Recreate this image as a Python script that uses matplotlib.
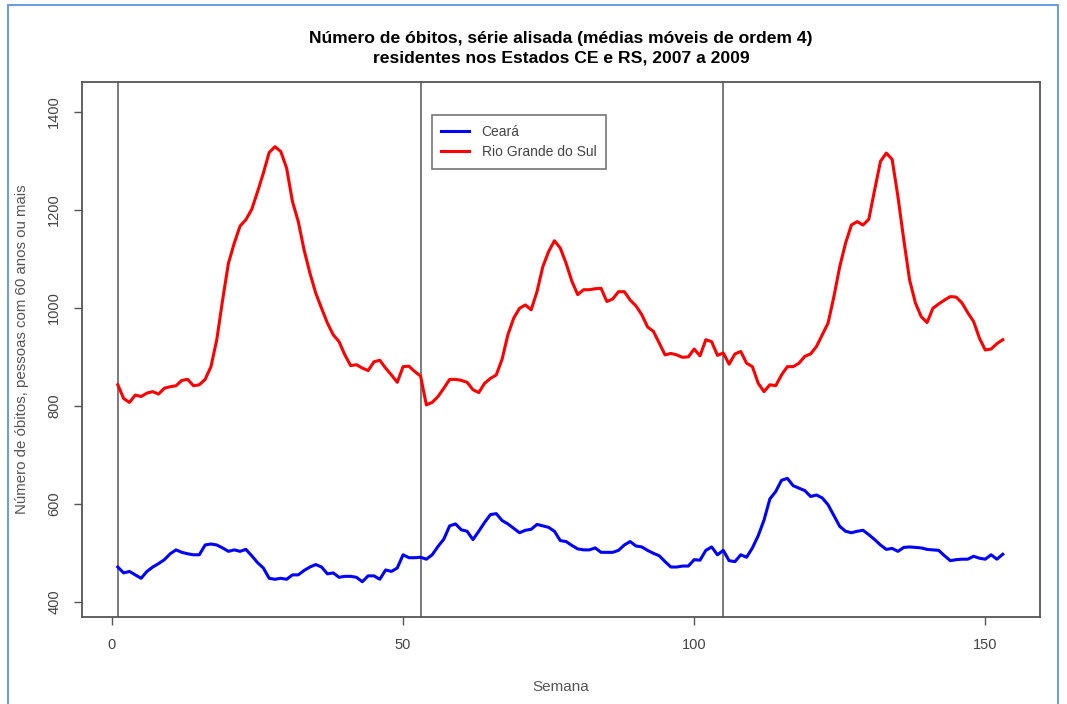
import numpy as np
import matplotlib
matplotlib.use("Agg")
import matplotlib.pyplot as plt
from matplotlib.patches import Rectangle

plt.rcParams['font.family'] = ['Liberation Sans', 'DejaVu Sans']

# weeks 1..153, moving averages of order 4
semana = np.arange(1, 154)

ceara = [
    471, 459, 462, 455, 448, 462, 471, 478, 486, 498,
    506, 501, 498, 496, 496, 516, 518, 516, 510, 503,
    506, 503, 507, 494, 480, 469, 448, 446, 448, 446,
    455, 455, 464, 471, 476, 471, 457, 459, 450, 452,
    452, 450, 441, 453, 453, 446, 465, 462, 469, 496,
    490, 490, 491, 487, 496, 513, 528, 555, 559, 547,
    544, 527, 544, 562, 578, 580, 566, 559, 550, 541,
    546, 548, 558, 555, 552, 544, 525, 523, 515, 508,
    506, 506, 510, 501, 501, 501, 505, 516, 523, 514,
    512, 505, 499, 494, 482, 471, 471, 473, 473, 486,
    485, 505, 512, 496, 505, 484, 482, 496, 491, 510,
    535, 567, 610, 625, 648, 652, 637, 632, 627, 615,
    618, 612, 598, 576, 554, 544, 541, 544, 546, 537,
    527, 516, 507, 509, 503, 511, 512, 511, 510, 507,
    506, 505, 494, 484, 486, 487, 487, 493, 489, 487,
    496, 487, 497,
]

rio_grande_do_sul = [
    843, 815, 807, 822, 819, 826, 829, 824, 836, 839,
    841, 852, 854, 841, 843, 854, 880, 935, 1016, 1091,
    1132, 1167, 1180, 1201, 1237, 1275, 1317, 1329, 1319, 1285,
    1217, 1176, 1118, 1071, 1030, 999, 969, 945, 931, 904,
    882, 884, 877, 872, 890, 893, 877, 863, 848, 880,
    881, 870, 861, 802, 807, 819, 836, 854, 854, 852,
    848, 833, 827, 846, 856, 863, 895, 945, 979, 999,
    1006, 996, 1033, 1084, 1115, 1137, 1122, 1091, 1054, 1027,
    1037, 1037, 1039, 1040, 1013, 1018, 1033, 1033, 1016, 1004,
    986, 961, 952, 928, 904, 907, 904, 899, 900, 916,
    902, 935, 931, 903, 908, 885, 906, 911, 887, 880,
    846, 829, 843, 841, 863, 880, 880, 887, 901, 906,
    921, 945, 969, 1023, 1084, 1132, 1169, 1176, 1169, 1181,
    1241, 1299, 1316, 1303, 1227, 1139, 1057, 1010, 982, 970,
    999, 1008, 1016, 1023, 1022, 1010, 990, 972, 938, 914,
    916, 927, 935,
]

inicio_ano = [1, 53, 105]
xticks = [0, 50, 100, 150]
yticks = [400, 600, 800, 1000, 1200, 1400]

fig = plt.figure(figsize=(10.67, 7.04), dpi=100)
ax = fig.add_axes([82 / 1067, 1 - 617 / 704, 958 / 1067, 535 / 704])

ax.plot(semana, ceara, color='#0000ff', lw=2.2, label='Ceará', zorder=3)
ax.plot(semana, rio_grande_do_sul, color='#ff0000', lw=2.2,
        label='Rio Grande do Sul', zorder=3)
for x in inicio_ano:
    ax.axvline(x, color='#707070', lw=1.3, zorder=2)

ax.set_xlim(-5.15, 159.4)
ax.set_ylim(369, 1461)
ax.set_xticks(xticks)
ax.set_yticks(yticks)
ax.tick_params(direction='out', length=6, width=1, color='#555555',
               labelcolor='#444444', labelsize=10.5, pad=9)
for lab in ax.get_yticklabels():
    lab.set_rotation(90)
    lab.set_va('center')
for s in ax.spines.values():
    s.set_color('#555555')
    s.set_linewidth(1.3)

ax.set_xlabel('Semana', color='#555555', fontsize=11, labelpad=20)
ax.set_ylabel('Número de óbitos, pessoas com 60 anos ou mais',
              color='#555555', fontsize=10.8, labelpad=13)

fig.text(561 / 1067, 1 - 48 / 704,
         'Número de óbitos, série alisada (médias móveis de ordem 4)\n'
         'residentes nos Estados CE e RS, 2007 a 2009',
         ha='center', va='center', fontsize=12.6, fontweight='bold',
         linespacing=1.35)

leg = ax.legend(loc='upper left', bbox_to_anchor=(0.365, 0.938),
                frameon=True, fancybox=False, fontsize=10,
                handlelength=2.0, borderpad=0.7, labelspacing=0.45,
                handletextpad=0.9, borderaxespad=0)
leg.get_frame().set_edgecolor('#555555')
leg.get_frame().set_linewidth(1.2)
for t in leg.get_texts():
    t.set_color('#444444')

# screenshot border
fig.patches.append(Rectangle((8 / 1067, -0.1), 1050 / 1067, 1.1 - 5 / 704,
                             transform=fig.transFigure, fill=False,
                             edgecolor='#6f9fd8', lw=1.5))

fig.savefig('out.png', dpi=100)
